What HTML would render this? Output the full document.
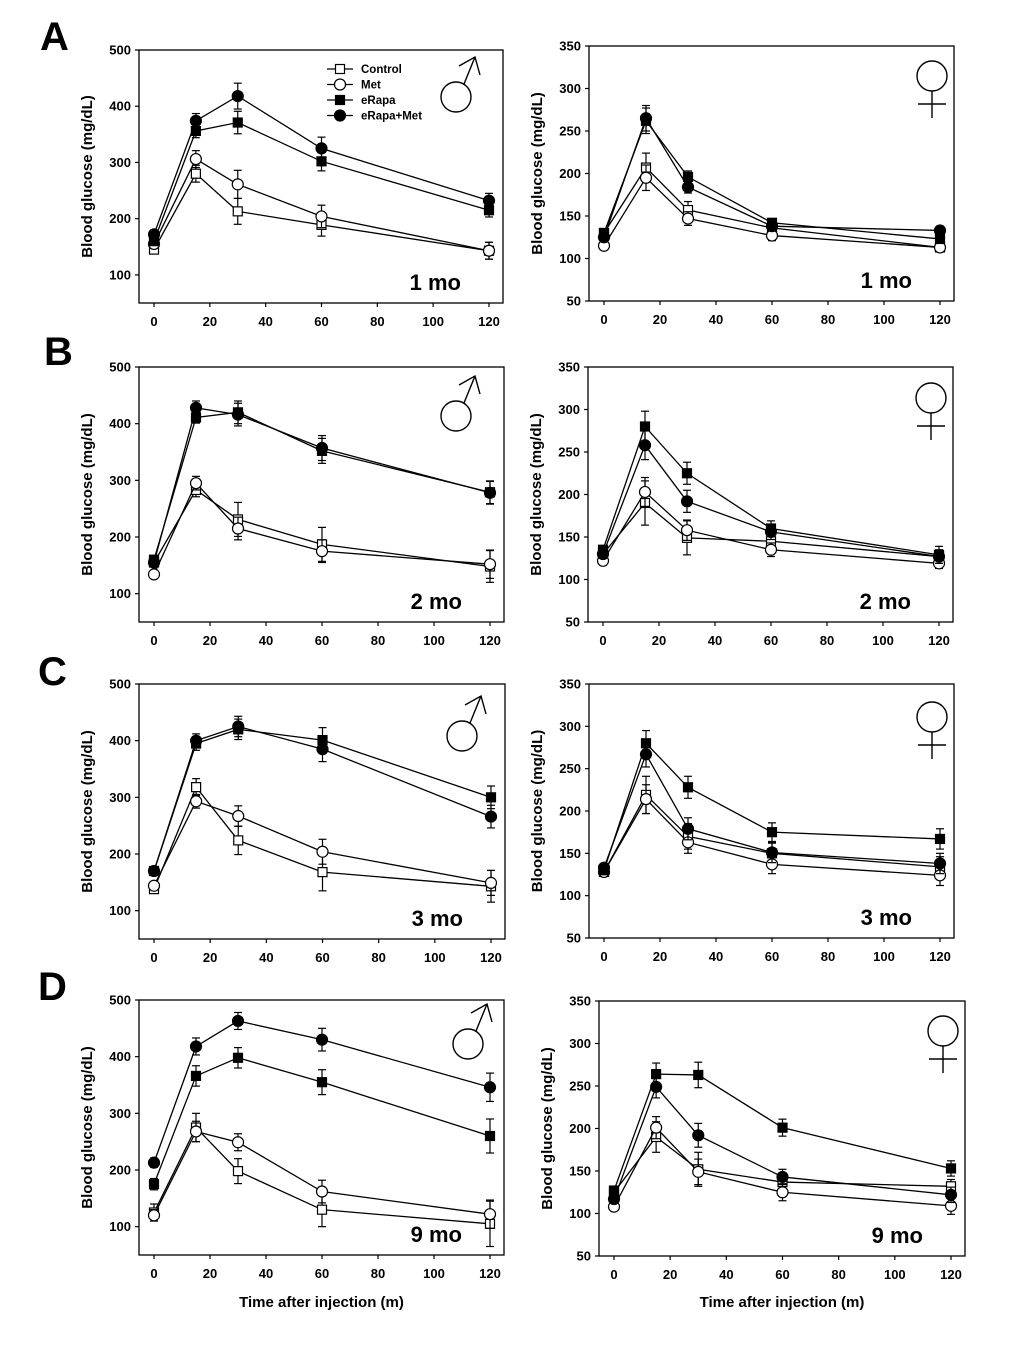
<!DOCTYPE html>
<html><head><meta charset="utf-8"><style>
html,body{margin:0;padding:0;background:#fff;}
svg text{font-family:"Liberation Sans",Arial,sans-serif;font-weight:bold;fill:#000;}
</style></head><body>
<svg id="fig" width="1020" height="1347" viewBox="0 0 1020 1347" xmlns="http://www.w3.org/2000/svg"></svg>
<script>
const times = [0, 15, 30, 60, 120];
const xTicks = [0, 20, 40, 60, 80, 100, 120];
const maleYTicks = [100, 200, 300, 400, 500];
const femaleYTicks = [50, 100, 150, 200, 250, 300, 350];
const seriesNames = ["Control", "Met", "eRapa", "eRapa+Met"];
// values per panel: [Control, Met, eRapa, eRapa+Met]
const A_male = [[145,280,213,189,143],[155,306,261,204,143],[160,356,371,302,215],[172,374,418,325,232]];
const A_male_err = [[5,15,23,20,15],[5,15,25,20,15],[5,12,20,17,12],[5,13,23,20,13]];
const A_female = [[130,207,157,136,113],[115,195,147,127,113],[130,262,196,142,123],[125,265,184,138,133]];
const A_female_err = [[5,17,10,6,5],[4,15,8,6,4],[5,15,7,5,5],[5,15,7,5,5]];
const B_male = [[155,283,231,187,148],[134,295,215,175,152],[160,411,420,352,279],[155,428,416,357,278]];
const B_male_err = [[6,12,30,30,28],[5,12,20,20,25],[6,10,20,22,20],[6,12,20,22,20]];
const B_female = [[130,190,149,145,127],[122,203,158,135,119],[135,280,225,160,129],[130,258,192,156,127]];
const B_female_err = [[5,26,20,10,6],[4,17,12,8,6],[5,18,13,9,10],[5,17,13,9,8]];
const C_male = [[138,318,224,168,143],[144,293,267,204,149],[170,395,420,401,300],[170,400,425,385,266]];
const C_male_err = [[5,15,25,33,28],[5,12,18,22,22],[6,12,18,22,20],[6,12,18,22,20]];
const C_female = [[128,219,170,150,134],[128,214,163,137,124],[130,280,228,175,167],[133,267,179,151,138]];
const C_female_err = [[4,22,15,12,12],[4,17,13,11,12],[5,15,13,11,12],[4,15,13,12,12]];
const D_male = [[125,275,198,130,105],[120,268,249,162,122],[175,366,398,355,260],[213,418,463,430,346]];
const D_male_err = [[15,25,22,30,40],[10,18,15,20,25],[10,18,18,22,30],[8,15,15,20,25]];
const D_female = [[125,190,152,137,132],[108,201,149,125,109],[127,264,263,201,153],[117,249,192,143,122]];
const D_female_err = [[5,18,20,8,8],[4,13,15,10,10],[5,13,15,10,9],[4,13,14,9,9]];

const NS = "http://www.w3.org/2000/svg";
const svg = document.getElementById("fig");
function mk(tag, attrs, parent) {
  const e = document.createElementNS(NS, tag);
  for (const k in attrs) e.setAttribute(k, attrs[k]);
  (parent || svg).appendChild(e);
  return e;
}

const panels = [
  {id:"a-male", L:139,T:50,R:503,B:303, sex:"m", data:A_male, err:A_male_err, mo:"1 mo", sym:[-47,47], legend:true},
  {id:"a-female", L:589,T:46,R:954,B:301, sex:"f", data:A_female, err:A_female_err, mo:"1 mo", sym:[-22,30]},
  {id:"b-male", L:139,T:367,R:504,B:622, sex:"m", data:B_male, err:B_male_err, mo:"2 mo", sym:[-48,49]},
  {id:"b-female", L:588,T:367,R:953,B:622, sex:"f", data:B_female, err:B_female_err, mo:"2 mo", sym:[-22,31]},
  {id:"c-male", L:139,T:684,R:505,B:939, sex:"m", data:C_male, err:C_male_err, mo:"3 mo", sym:[-43,52]},
  {id:"c-female", L:589,T:684,R:954,B:938, sex:"f", data:C_female, err:C_female_err, mo:"3 mo", sym:[-22,33]},
  {id:"d-male", L:139,T:1000,R:504,B:1255, sex:"m", data:D_male, err:D_male_err, mo:"9 mo", sym:[-36,44], xlabel:true},
  {id:"d-female", L:599,T:1001,R:965,B:1256, sex:"f", data:D_female, err:D_female_err, mo:"9 mo", sym:[-22,30], xlabel:true}
];

function marker(g, i, x, y) {
  let m;
  if (i === 0 || i === 2) {
    m = mk("rect", {x:x-4.5, y:y-4.5, width:9, height:9, fill: i===2?"#000":"#fff", stroke:"#000", "stroke-width":1.2}, g);
  } else {
    m = mk("circle", {cx:x, cy:y, r:5.5, fill: i===3?"#000":"#fff", stroke:"#000", "stroke-width":1.2}, g);
  }
  return m;
}

panels.forEach(p => {
  const g = mk("g", {});
  
  
  const ymin = 50, ymax = p.sex === "m" ? 500 : 350;
  const sx = v => (p.L + 15) + v * ((p.R - 14) - (p.L + 15)) / 120;
  const sy = v => p.B - (v - ymin) * (p.B - p.T) / (ymax - ymin);
  const frame = mk("rect", {x:p.L, y:p.T, width:p.R-p.L, height:p.B-p.T, fill:"none", stroke:"#000", "stroke-width":1.3}, g);
  
  
  // y ticks
  const yt = p.sex === "m" ? maleYTicks : femaleYTicks;
  yt.forEach(v => {
    mk("line", {x1:p.L-4, x2:p.L, y1:sy(v), y2:sy(v), stroke:"#000", "stroke-width":1.2}, g);
    const t = mk("text", {x:p.L-8, y:sy(v)+4.5, "text-anchor":"end", "font-size":13}, g);
    t.textContent = v;
    
    
  });
  xTicks.forEach(v => {
    mk("line", {x1:sx(v), x2:sx(v), y1:p.B, y2:p.B+4, stroke:"#000", "stroke-width":1.2}, g);
    const t = mk("text", {x:sx(v), y:p.B+23, "text-anchor":"middle", "font-size":13}, g);
    t.textContent = v;
    
    
  });
  const cy = (p.T + p.B) / 2, ax = p.L - 47;
  const yl = mk("text", {x:ax, y:cy, "text-anchor":"middle", "font-size":15, transform:`rotate(-90 ${ax} ${cy})`}, g);
  yl.textContent = "Blood glucose (mg/dL)";
  
  
  if (p.xlabel) {
    const xl = mk("text", {x:(p.L+p.R)/2, y:1307, "text-anchor":"middle", "font-size":15}, g);
    xl.textContent = "Time after injection (m)";
    
    
  }
  const mo = mk("text", {x:p.R-42, y:p.B-13, "text-anchor":"end", "font-size":22}, g);
  mo.textContent = p.mo;
  
  
  // sex symbol
  const cx0 = p.R + p.sym[0], cy0 = p.T + p.sym[1];
  const sg = mk("g", {fill:"none", stroke:"#000", "stroke-width":1.4}, g);
  
  
  if (p.sex === "m") {
    mk("circle", {cx:cx0, cy:cy0, r:15}, sg);
    mk("polyline", {points:`${cx0+8},${cy0-13} ${cx0+19},${cy0-40}`}, sg);
    mk("polyline", {points:`${cx0+3},${cy0-31} ${cx0+19},${cy0-40} ${cx0+24},${cy0-22}`}, sg);
  } else {
    mk("circle", {cx:cx0, cy:cy0, r:15}, sg);
    mk("line", {x1:cx0, x2:cx0, y1:cy0+15, y2:cy0+42}, sg);
    mk("line", {x1:cx0-14, x2:cx0+14, y1:cy0+28, y2:cy0+28}, sg);
  }
  // series
  p.data.forEach((vals, i) => {
    const sgp = mk("g", {}, g);
    
    
    const pts = vals.map((v, j) => `${sx(times[j])},${sy(v)}`).join(" ");
    mk("polyline", {points:pts, fill:"none", stroke:"#000", "stroke-width":1.3}, sgp);
    vals.forEach((v, j) => {
      const e = p.err[i][j], x = sx(times[j]);
      mk("line", {x1:x, x2:x, y1:sy(v-e), y2:sy(v+e), stroke:"#000", "stroke-width":1.2}, sgp);
      mk("line", {x1:x-4, x2:x+4, y1:sy(v+e), y2:sy(v+e), stroke:"#000", "stroke-width":1.2}, sgp);
      mk("line", {x1:x-4, x2:x+4, y1:sy(v-e), y2:sy(v-e), stroke:"#000", "stroke-width":1.2}, sgp);
    });
    vals.forEach((v, j) => {
      const m = marker(sgp, i, sx(times[j]), sy(v));
      
      
    });
  });
  if (p.legend) {
    const lg = mk("g", {}, g);
    
    
    seriesNames.forEach((n, i) => {
      const y = 69 + i * 15.5;
      const e = mk("g", {}, lg);
      
      
      mk("line", {x1:327, x2:353, y1:y, y2:y, stroke:"#000", "stroke-width":1.2}, e);
      marker(e, i, 340, y);
      const t = mk("text", {x:361, y:y+4, "font-size":11.5}, e);
      t.textContent = n;
    });
  }
});
[["A",40,50],["B",44,365],["C",38,685],["D",38,1000]].forEach(([l,x,y]) => {
  const t = mk("text", {x:x, y:y, "font-size":40});
  t.textContent = l;
  
  
});
</script>
</body></html>
